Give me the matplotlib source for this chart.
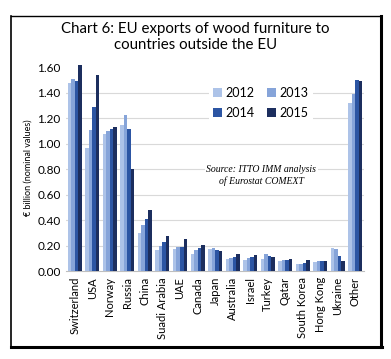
import matplotlib
matplotlib.use("Agg")
from matplotlib import pyplot as plt
from matplotlib.lines import Line2D
import numpy as np

countries = ["Switzerland", "USA", "Norway", "Russia", "China", "Suadi Arabia",
             "UAE", "Canada", "Japan", "Australia", "Israel", "Turkey", "Qatar",
             "South Korea", "Hong Kong", "Ukraine", "Other"]
years = ["2012", "2013", "2014", "2015"]
v2012 = [1.48, 0.97, 1.08, 1.15, 0.30, 0.17, 0.175, 0.14, 0.175, 0.10, 0.086, 0.097, 0.084, 0.06, 0.076, 0.18, 1.32]
v2013 = [1.51, 1.11, 1.10, 1.23, 0.36, 0.20, 0.19, 0.17, 0.18, 0.105, 0.105, 0.14, 0.089, 0.06, 0.078, 0.175, 1.39]
v2014 = [1.49, 1.29, 1.12, 1.12, 0.41, 0.23, 0.19, 0.18, 0.17, 0.115, 0.11, 0.12, 0.089, 0.065, 0.084, 0.12, 1.50]
v2015 = [1.62, 1.54, 1.13, 0.80, 0.48, 0.28, 0.256, 0.21, 0.16, 0.14, 0.13, 0.11, 0.10, 0.089, 0.084, 0.084, 1.49]
yticks = [0.00, 0.20, 0.40, 0.60, 0.80, 1.00, 1.20, 1.40, 1.60]

series = [v2012, v2013, v2014, v2015]
bar_colors = ["#adc3e8", "#86a4d9", "#2c55a3", "#1c2e5e"]

plt.rcParams['font.family'] = ['Lato', 'DejaVu Sans']

fig = plt.figure(figsize=(3.91, 3.59), dpi=100)
ax = fig.add_axes([0.169, 0.244, 0.762, 0.579])

x = np.arange(len(countries))
w = 0.2
bars = []
for i, vals in enumerate(series):
    b = ax.bar(x + (i - 1.5) * w, vals, width=w, color=bar_colors[i], label=years[i],
               zorder=3, linewidth=0)
    bars.append(b)

ax.set_xlim(-0.5, len(countries) - 0.5)
ax.set_ylim(0, 1.63)
ax.set_yticks(yticks)
ax.set_yticklabels(["%.2f" % t for t in yticks], fontsize=8.5)
ax.set_xticks(x)
ax.set_xticklabels(countries, rotation=90, fontsize=8)
ax.tick_params(length=0, pad=4)
for t in yticks[1:-1]:
    ax.axhline(t, color="#d9d9d9", linewidth=0.8, zorder=0)
for s in ["top", "right", "left"]:
    ax.spines[s].set_visible(False)
ax.spines["bottom"].set_color("#bfbfbf")
ax.set_ylabel("\u20ac billion (nominal values)", fontsize=6.5, labelpad=3)

# rows read 2012 2013 / 2014 2015
order = [0, 2, 1, 3]
leg = ax.legend([bars[k] for k in order], [years[k] for k in order], ncol=2,
                loc="upper left", bbox_to_anchor=(0.46, 0.935), fontsize=9,
                frameon=True, handlelength=0.7, handleheight=0.7, columnspacing=1.0,
                handletextpad=0.3, labelspacing=0.6, borderpad=0.3)
leg.get_frame().set_edgecolor("none")
leg.get_frame().set_facecolor("white")
leg.get_frame().set_alpha(1)
leg.set_zorder(4)

ax.text(0.655, 0.46, "Source: ITTO IMM analysis\nof Eurostat COMEXT", transform=ax.transAxes,
        ha="center", va="center", fontsize=7, style="italic", family="Liberation Serif",
        linespacing=1.3, zorder=4, bbox=dict(facecolor="white", edgecolor="none", pad=1))

fig.text(0.5, 0.897, "Chart 6: EU exports of wood furniture to\ncountries outside the EU",
         ha="center", va="center", fontsize=10.8, linespacing=1.25)

# frame round the chart
W, H = 391.0, 359.0
fig.add_artist(Line2D([11 / W, 380 / W], [1 - 16 / H, 1 - 16 / H], transform=fig.transFigure, color="black", linewidth=1))
fig.add_artist(Line2D([11 / W, 11 / W], [1 - 16 / H, 1 - 347 / H], transform=fig.transFigure, color="black", linewidth=1.2))
fig.add_artist(Line2D([381 / W, 381 / W], [1 - 16 / H, 1 - 347 / H], transform=fig.transFigure, color="black", linewidth=2.2))
fig.add_artist(Line2D([11 / W, 382 / W], [1 - 347 / H, 1 - 347 / H], transform=fig.transFigure, color="black", linewidth=2.2))

fig.savefig("out.png", dpi=100)
